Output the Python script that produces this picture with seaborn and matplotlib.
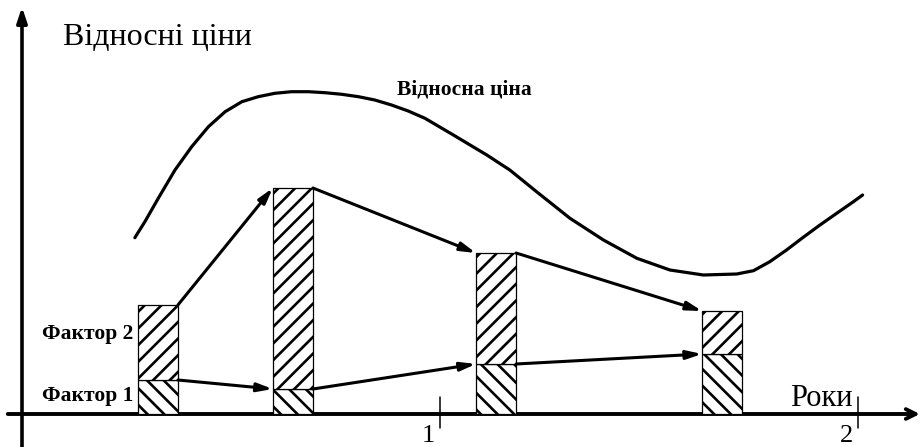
import matplotlib
matplotlib.use("Agg")
import matplotlib.pyplot as plt
import seaborn as sns

# bar positions (years) and stacked factor values
bar_x = [0.325, 0.648, 1.134, 1.675]
factor1 = [0.34, 0.25, 0.50, 0.60]
factor2 = [0.75, 2.01, 1.11, 0.43]
bar_width = 0.096

# relative price curve
price_x = [0.270, 0.294, 0.326, 0.366, 0.406, 0.446, 0.486, 0.526, 0.565, 0.605,
           0.645, 0.685, 0.725, 0.765, 0.805, 0.844, 0.884, 0.924, 0.964, 1.032,
           1.112, 1.167, 1.231, 1.311, 1.391, 1.471, 1.550, 1.630, 1.710, 1.750,
           1.789, 1.829, 1.869, 1.909, 1.949, 1.989, 2.011]
price_y = [1.763, 1.923, 2.157, 2.440, 2.673, 2.873, 3.023, 3.123, 3.173, 3.207,
           3.223, 3.223, 3.213, 3.197, 3.173, 3.140, 3.090, 3.030, 2.957, 2.790,
           2.590, 2.440, 2.223, 1.957, 1.740, 1.557, 1.440, 1.390, 1.400, 1.433,
           1.523, 1.640, 1.767, 1.890, 2.007, 2.123, 2.190]

year_ticks = [1, 2]
year_labels = ["1", "2"]

sns.set_style("white")
plt.rcParams["font.family"] = ["Liberation Serif", "DejaVu Serif"]
plt.rcParams["text.color"] = "black"
plt.rcParams["hatch.linewidth"] = 1.9

fig = plt.figure(figsize=(9.22, 4.47), dpi=100)
ax = fig.add_axes([0, 0, 1, 1])
ax.set_xlim(-22 / 418, 900 / 418)
ax.set_ylim(-0.33, 4.14)
ax.axis("off")

# axes with arrows
ax.annotate("", xy=(2.148, 0), xytext=(-0.034, 0),
            arrowprops=dict(arrowstyle="->,head_length=0.7,head_width=0.35",
                            lw=2.8, color="black", shrinkA=0, shrinkB=0))
ax.annotate("", xy=(0, 4.07), xytext=(0, -0.33),
            arrowprops=dict(arrowstyle="-|>,head_length=0.9,head_width=0.3",
                            lw=2.6, color="black", shrinkA=0, shrinkB=0))

# year ticks
for t, lab in zip(year_ticks, year_labels):
    ax.plot([t, t], [0.17, -0.14], color="black", lw=1.1)
    ax.text(t - 0.012, -0.325, lab, ha="right", va="bottom", fontsize=19)

# stacked hatched bars
ax.bar(bar_x, factor1, width=bar_width, color="white", edgecolor="black",
       hatch="\\\\", linewidth=0.9, zorder=3)
ax.bar(bar_x, factor2, bottom=factor1, width=bar_width, color="white",
       edgecolor="black", hatch="//", linewidth=0.9, zorder=3)

# arrows linking bar tops
totals = [a + b for a, b in zip(factor1, factor2)]
for levels in (factor1, totals):
    for i in range(len(bar_x) - 1):
        ax.annotate("", xy=(bar_x[i + 1] - bar_width / 2, levels[i + 1]),
                    xytext=(bar_x[i] + bar_width / 2, levels[i]),
                    arrowprops=dict(arrowstyle="-|>,head_length=0.9,head_width=0.25",
                                    lw=2.2, color="black", shrinkA=0, shrinkB=0),
                    zorder=4)

# relative price curve
sns.lineplot(x=price_x, y=price_y, ax=ax, color="black", linewidth=2.3)

# labels
ax.text(0.098, 3.69, "Відносні ціни", fontsize=23, va="baseline")
ax.text(1.837, 0.08, "Роки", fontsize=22, va="baseline")
ax.text(0.897, 3.19, "Відносна ціна", fontsize=15.5, fontweight="bold", va="baseline")
ax.text(0.047, 0.75, "Фактор 2", fontsize=15.5, fontweight="bold", va="baseline")
ax.text(0.047, 0.13, "Фактор 1", fontsize=15.5, fontweight="bold", va="baseline")

fig.savefig("out.png", dpi=100)
